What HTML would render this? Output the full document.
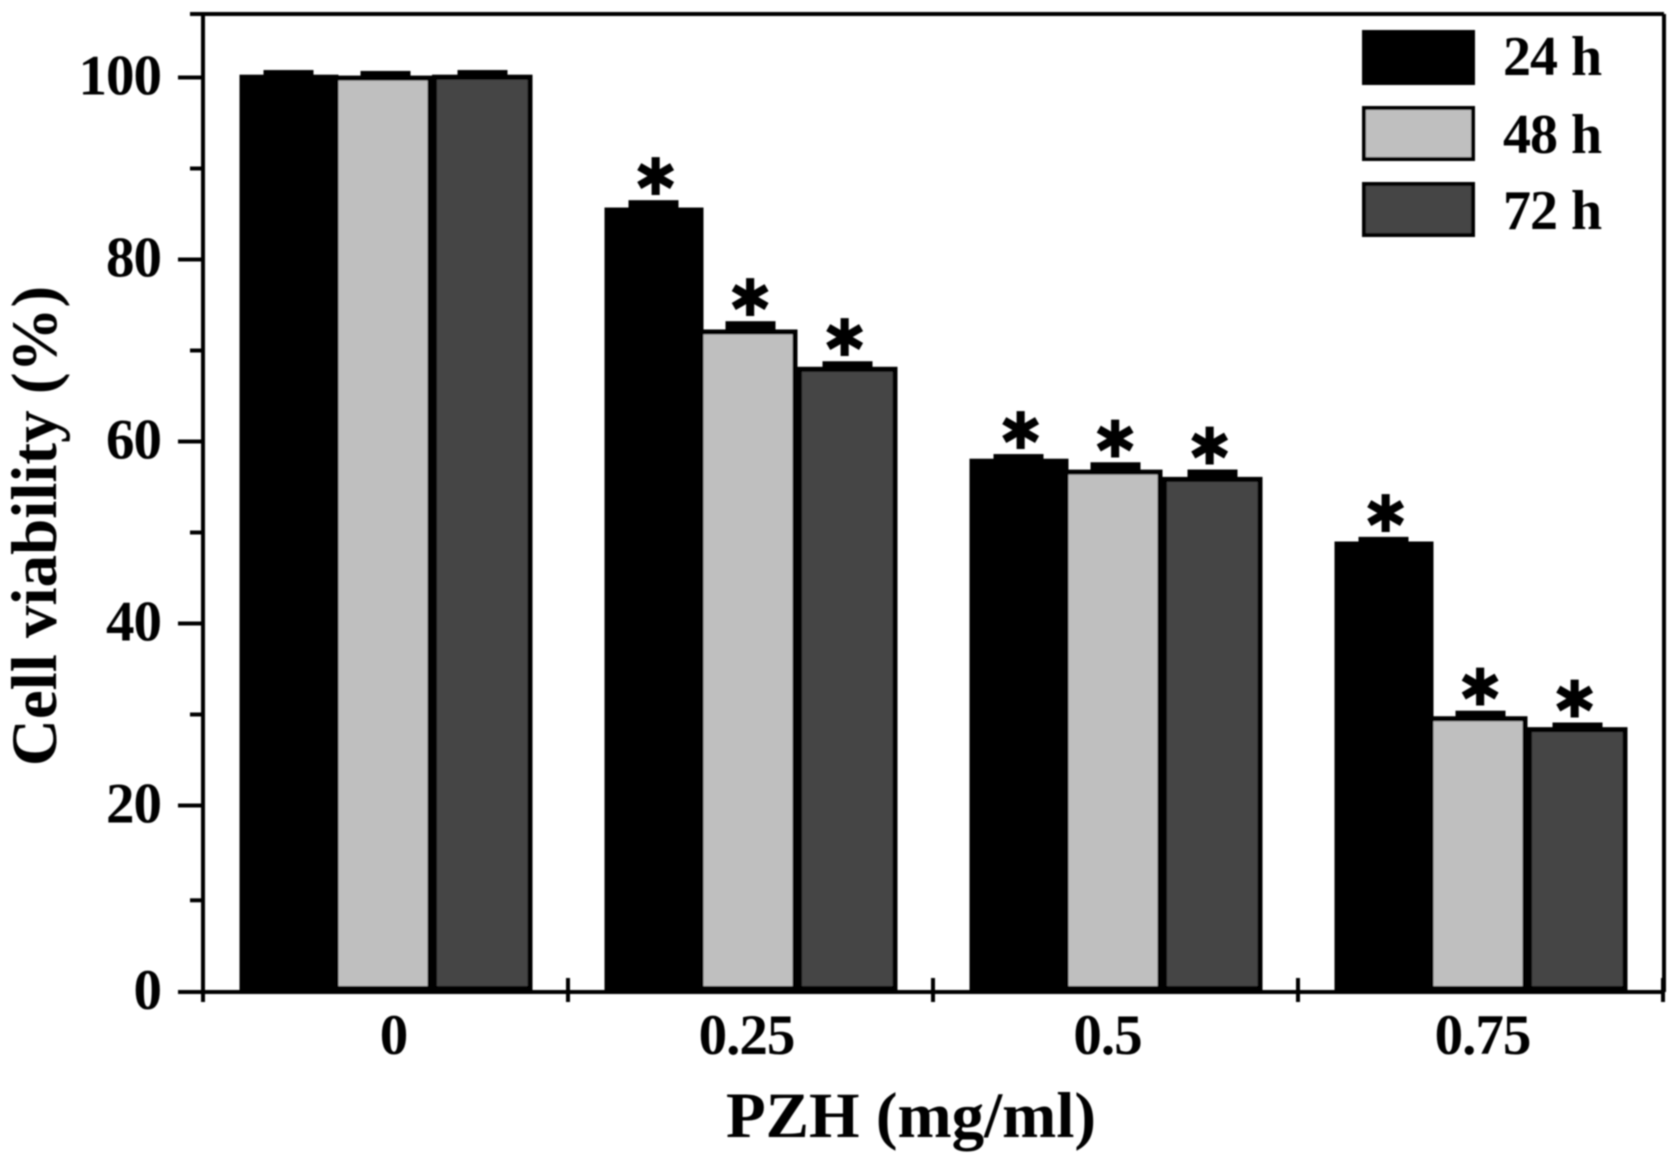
<!DOCTYPE html>
<html>
<head>
<meta charset="utf-8">
<style>
html,body{margin:0;padding:0;background:#fff;}
svg{display:block;}
text{font-family:"Liberation Serif",serif;font-weight:bold;fill:#000;}
text.star{font-family:"DejaVu Sans",sans-serif;font-weight:normal;}
</style>
</head>
<body>
<svg id="chart" width="1677" height="1162" viewBox="0 0 1677 1162" xmlns="http://www.w3.org/2000/svg">
<defs><filter id="soft" x="-2%" y="-2%" width="104%" height="104%"><feGaussianBlur stdDeviation="0.7"/></filter></defs>
<g id="root" filter="url(#soft)"></g>
</svg>
<script>
const categories = ['0', '0.25', '0.5', '0.75'];
const seriesNames = ['24 h', '48 h', '72 h'];
const values24h = [100.2, 85.6, 58, 48.9];
const values48h = [100.1, 72.2, 56.8, 29.7];
const values72h = [100.2, 68.1, 56, 28.5];
const errors24h = [0.4, 0.7, 0.4, 0.4];
const errors48h = [0.4, 0.8, 0.7, 0.5];
const errors72h = [0.4, 0.5, 0.7, 0.4];
const significant24h = [false, true, true, true];
const significant48h = [false, true, true, true];
const significant72h = [false, true, true, true];
const yMajorTicks = [0, 20, 40, 60, 80, 100];
const yMinorTicks = [10, 30, 50, 70, 90];

const NS = 'http://www.w3.org/2000/svg';
const root = document.getElementById('root');
const plotLeft = 203, plotRight = 1664, plotTop = 14, plotBottom = 992;
const y100 = 77.5, pxPerUnit = 9.1;
const bandW = 365, barW = 97;
const colors = ['#000000', '#bfbfbf', '#454545'];
const allValues = [values24h, values48h, values72h];
const allErrors = [errors24h, errors48h, errors72h];
const allSig = [significant24h, significant48h, significant72h];
const labelShift = [8, -4, -8, 2];

function yScale(v) { return y100 + (100 - v) * pxPerUnit; }
function tickY(v) { return v === 0 ? plotBottom : yScale(v) + (v <= 10 ? 3.8 : 0); }
function xBand(i) { return plotLeft + bandW * i; }
function xBar(c, s) { return xBand(c) + (bandW - barW * 3) / 2 + barW * s; }

function add(tag, attrs, parent) {
  const el = document.createElementNS(NS, tag);
  for (const k in attrs) el.setAttribute(k, attrs[k]);
  (parent || root).appendChild(el);
  return el;
}

// bars, error bars, asterisks
allValues.forEach(function (vals, s) {
  vals.forEach(function (v, c) {
    const x = xBar(c, s), top = yScale(v);
    const rx = x + 2 - (s === 1 ? 3 : s === 2 ? 1.5 : 0);
    const rw = barW - 3 + (s === 2 ? 1.5 : 0);
    const bar = add('rect', {x: rx, y: top + 1.5, width: rw, height: 988.5 - top - 1.5, fill: colors[s], stroke: '#000', 'stroke-width': 5});
    
    
    const cx = x + barW / 2;
    const errTop = yScale(v + allErrors[s][c]);
    const cap = add('rect', {x: cx - 25, y: errTop - 2, width: 50, height: Math.max(top - errTop + 2, 4), fill: '#000'});
    
    
    if (allSig[s][c]) {
      const star = add('text', {x: cx + 2 - 2.5 * s, y: errTop - 7, 'text-anchor': 'middle', 'font-size': 52, 'class': 'star'});
      
      
      star.textContent = '\u2731';
    }
  });
});

// frame
[[plotLeft, plotTop, plotLeft, plotBottom, 'y-axis-line'],
 [190, plotTop, plotRight, plotTop, 'top-frame-line'],
 [plotRight, plotTop, plotRight, plotBottom, 'right-frame-line'],
 [178, plotBottom, plotRight, plotBottom, 'x-axis-line']].forEach(function (l) {
  const line = add('line', {x1: l[0], y1: l[1], x2: l[2], y2: l[3], stroke: '#000', 'stroke-width': 4});
  
  
});

// y ticks
yMajorTicks.forEach(function (t) {
  const tick = add('line', {x1: 178, y1: tickY(t), x2: plotLeft, y2: tickY(t), stroke: '#000', 'stroke-width': 4});
  
  
  const label = add('text', {x: 161, y: tickY(t) + 17, 'text-anchor': 'end', 'font-size': 57, 'letter-spacing': -1});
  
  
  label.textContent = t;
});
yMinorTicks.forEach(function (t) {
  const tick = add('line', {x1: 190, y1: tickY(t), x2: plotLeft, y2: tickY(t), stroke: '#000', 'stroke-width': 4});
  
  
});

// x ticks and labels
for (let i = 0; i <= categories.length; i++) {
  const tick = add('line', {x1: xBand(i), y1: 978, x2: xBand(i), y2: 1002, stroke: '#000', 'stroke-width': 4});
  
  
}
categories.forEach(function (c, i) {
  const label = add('text', {x: xBand(i) + bandW / 2 + labelShift[i], y: 1054, 'text-anchor': 'middle', 'font-size': 57, 'letter-spacing': -1});
  
  
  label.textContent = c;
});

// axis titles
const xTitle = add('text', {x: 911, y: 1137, 'text-anchor': 'middle', 'font-size': 65});


xTitle.textContent = 'PZH (mg/ml)';
const yTitle = add('text', {x: 0, y: 0, 'text-anchor': 'middle', 'font-size': 65, transform: 'translate(56 526) rotate(-90)'});


yTitle.textContent = 'Cell viability (%)';

// legend
seriesNames.forEach(function (n, s) {
  const ly = 32 + s * 76;
  const swatch = add('rect', {x: 1364, y: ly, width: 109, height: 51, fill: colors[s], stroke: '#000', 'stroke-width': 4});
  
  
  const label = add('text', {x: 1503, y: ly + 43 + (s > 0 ? 2 : 0), 'font-size': 56, 'letter-spacing': -1, 'word-spacing': 1});
  
  
  label.textContent = n;
});
</script>
</body>
</html>
